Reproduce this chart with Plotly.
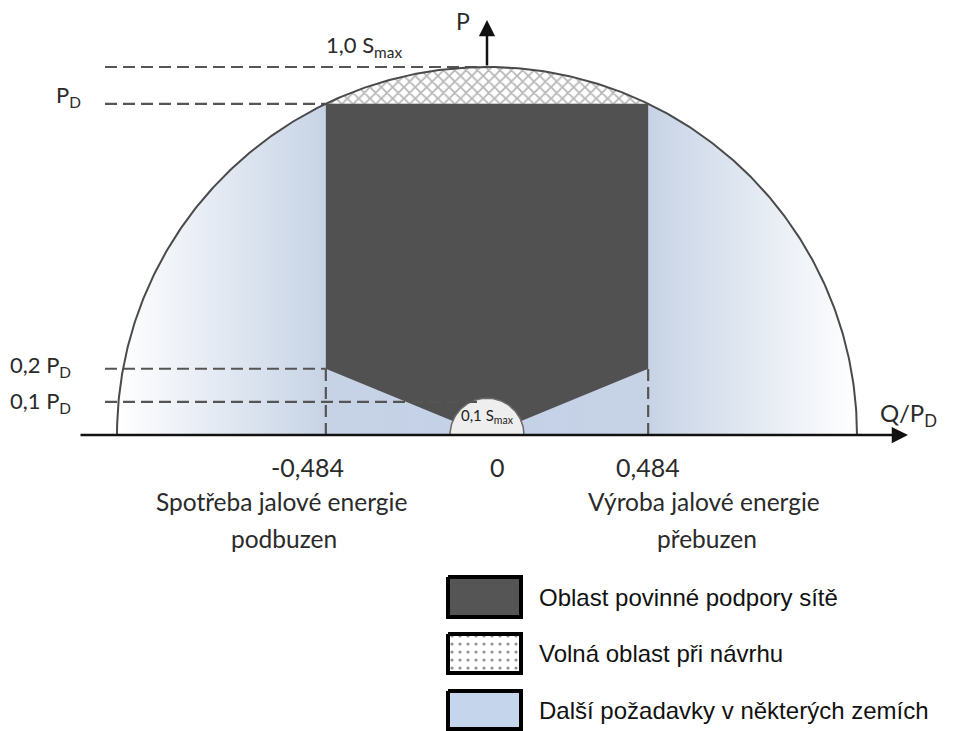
import numpy as np
import plotly.graph_objects as go

# ---------------- data ----------------
S_max = 1.0                 # apparent power limit (radius)
P_D_frac = 0.9              # P_D as a fraction of S_max
q_over_pd = 0.484           # Q/P_D limit of mandatory area
p_levels = [0.2, 0.1]       # fractions of P_D marked by dashed lines
s_small = 0.1               # small circle 0.1 S_max
q_tick_labels = ["-0,484", "0", "0,484"]
side_labels = [["Spotřeba jalové energie", "podbuzen"], ["Výroba jalové energie", "přebuzen"]]
legend_labels = ["Oblast povinné podpory sítě", "Volná oblast při návrhu", "Další požadavky v některých zemích"]

P_D = P_D_frac * S_max
q_lim = q_over_pd * P_D

# screen mapping helpers (page has an 8px body margin)
OX, OY, SX, SY, OFF = 487, 435, 370.0, 368.0, 8

def px(sx):
    return (sx - OX) / SX

def py(sy):
    return (OY - sy) / SY

fig = go.Figure()

# light region: whole semicircle with horizontal gradient
th = np.linspace(0, np.pi, 400)
fig.add_trace(go.Scatter(
    x=list(S_max * np.cos(th)), y=list(S_max * np.sin(th)),
    fill="toself", mode="lines", line=dict(width=0),
    fillgradient=dict(type="horizontal", start=-S_max, stop=S_max,
                      colorscale=[[0, "#ffffff"], [0.282, "#c7d3e5"], [0.5, "#c3d1e8"],
                                  [0.718, "#c7d3e5"], [1, "#ffffff"]]),
    hoverinfo="skip", showlegend=False))

# hatched cap above P_D
a0 = np.arcsin(P_D / S_max)
tc = np.linspace(a0, np.pi - a0, 200)
fig.add_trace(go.Scatter(
    x=list(S_max * np.cos(tc)), y=list(S_max * np.sin(tc)),
    fill="toself", mode="lines", line=dict(width=0), fillcolor="white",
    fillpattern=dict(shape="x", fgcolor="#6f6f6f", bgcolor="#ffffff", size=8, solidity=0.4),
    hoverinfo="skip", showlegend=False))

# dark mandatory region
p_low = p_levels[0] * P_D
ang = np.arctan2(p_low, q_lim)
ts = np.linspace(ang, np.pi - ang, 60)
dx = [-q_lim, q_lim, q_lim] + list(s_small * np.cos(ts)) + [-q_lim, -q_lim]
dy = [P_D, P_D, p_low] + list(s_small * np.sin(ts)) + [p_low, P_D]
fig.add_trace(go.Scatter(x=dx, y=dy, fill="toself", mode="lines", line=dict(width=0),
                         fillcolor="#515151", hoverinfo="skip", showlegend=False))

# small semicircle
t2 = np.linspace(0, np.pi, 80)
fig.add_trace(go.Scatter(x=list(s_small * np.cos(t2)), y=list(s_small * np.sin(t2)),
                         fill="toself", mode="lines", line=dict(color="#6a6a6a", width=1.5),
                         fillcolor="#eeeeee", hoverinfo="skip", showlegend=False))

dash = dict(color="#555555", width=2.2, dash="12px,6px")
x_left = px(105)
# horizontal dashed lines
fig.add_trace(go.Scatter(x=[x_left, 0], y=[S_max, S_max], mode="lines", line=dash, showlegend=False, hoverinfo="skip"))
fig.add_trace(go.Scatter(x=[x_left, -q_lim], y=[P_D, P_D], mode="lines", line=dash, showlegend=False, hoverinfo="skip"))
fig.add_trace(go.Scatter(x=[x_left, -q_lim], y=[p_levels[0] * P_D] * 2, mode="lines", line=dash, showlegend=False, hoverinfo="skip"))
fig.add_trace(go.Scatter(x=[x_left, -0.025], y=[p_levels[1] * P_D] * 2, mode="lines", line=dash, showlegend=False, hoverinfo="skip"))
# vertical dashed lines
for sxv in (-q_lim, q_lim):
    fig.add_trace(go.Scatter(x=[sxv, sxv], y=[0, p_low], mode="lines", line=dash, showlegend=False, hoverinfo="skip"))

# big circle outline
fig.add_trace(go.Scatter(x=list(S_max * np.cos(th)), y=list(S_max * np.sin(th)), mode="lines",
                         line=dict(color="#4a4a4a", width=2), hoverinfo="skip", showlegend=False))

# axes with arrows
fig.add_annotation(x=px(908), y=0, ax=px(79), ay=0, axref="x", ayref="y", xref="x", yref="y",
                   text="", showarrow=True, arrowhead=2, arrowsize=1.3, arrowwidth=2.5,
                   arrowcolor="#111111", standoff=0)
fig.add_annotation(x=0, y=py(20), ax=0, ay=S_max, axref="x", ayref="y", xref="x", yref="y",
                   text="", showarrow=True, arrowhead=2, arrowsize=1.3, arrowwidth=2.5,
                   arrowcolor="#111111", standoff=0)

FAM = "Lato, Open Sans, sans-serif"

def lab(x, y, t, xa="center", ya="middle", size=22, color="#2a2a2a", fam=FAM):
    fig.add_annotation(x=x, y=y, text=t, showarrow=False, xanchor=xa, yanchor=ya,
                       font=dict(family=fam, size=size, color=color))

lab(px(463), py(21), "P", size=23)
lab(px(404), py(46), "1,0 S<sub>max</sub>", xa="right", size=22)
lab(px(54), py(96), "P<sub>D</sub>", xa="left", size=22)
lab(px(8), py(366), "0,2 P<sub>D</sub>", xa="left", size=22)
lab(px(8), py(402), "0,1 P<sub>D</sub>", xa="left", size=22)
lab(px(878), py(414), "Q/P<sub>D</sub>", xa="left", size=24)
lab(0, py(416), "0,1 S<sub>max</sub>", size=15, color="#222222")

for xv, sh, t in zip([-q_lim, 0, q_lim], [-18, 10, 0], q_tick_labels):
    fig.add_annotation(x=xv, y=py(467), text=t, showarrow=False, xshift=sh,
                       font=dict(family=FAM, size=25, color="#2a2a2a"))
for cx, lines in zip([281, 704], side_labels):
    lab(px(cx), py(501), lines[0], size=24.5)
    lab(px(cx + 3), py(538), lines[1], size=24.5)

# legend boxes
box_y = [(577, 617), (634, 673), (691, 729)]
bx0, bx1 = px(448), px(521)
styles = [dict(fillcolor="#555555"),
          dict(fillcolor="white", fillpattern=dict(shape=".", fgcolor="#222222", bgcolor="#ffffff", size=8, solidity=0.12)),
          dict(fillcolor="#c5d5ec")]
for (y0, y1), st, name in zip(box_y, styles, legend_labels):
    Y0, Y1 = py(y0), py(y1)
    fig.add_trace(go.Scatter(x=[bx0, bx1, bx1, bx0, bx0], y=[Y0, Y0, Y1, Y1, Y0], fill="toself",
                             mode="lines", line=dict(color="black", width=4), showlegend=False,
                             hoverinfo="skip", **st))
    lab(px(537), (Y0 + Y1) / 2, name, xa="left", size=24, color="#111111",
        fam="Liberation Sans, Arial, sans-serif")

# ranges chosen so that the figure (drawn 8px in from the page corner) maps to screen pixels
fig.update_xaxes(range=[px(OFF), px(960 + OFF)], visible=False, fixedrange=True)
fig.update_yaxes(range=[py(731 + OFF), py(OFF)], visible=False, fixedrange=True)
fig.update_layout(width=960, height=731, margin=dict(l=0, r=0, t=0, b=0),
                  plot_bgcolor="white", paper_bgcolor="white", showlegend=False)

fig.write_html("out.html")
